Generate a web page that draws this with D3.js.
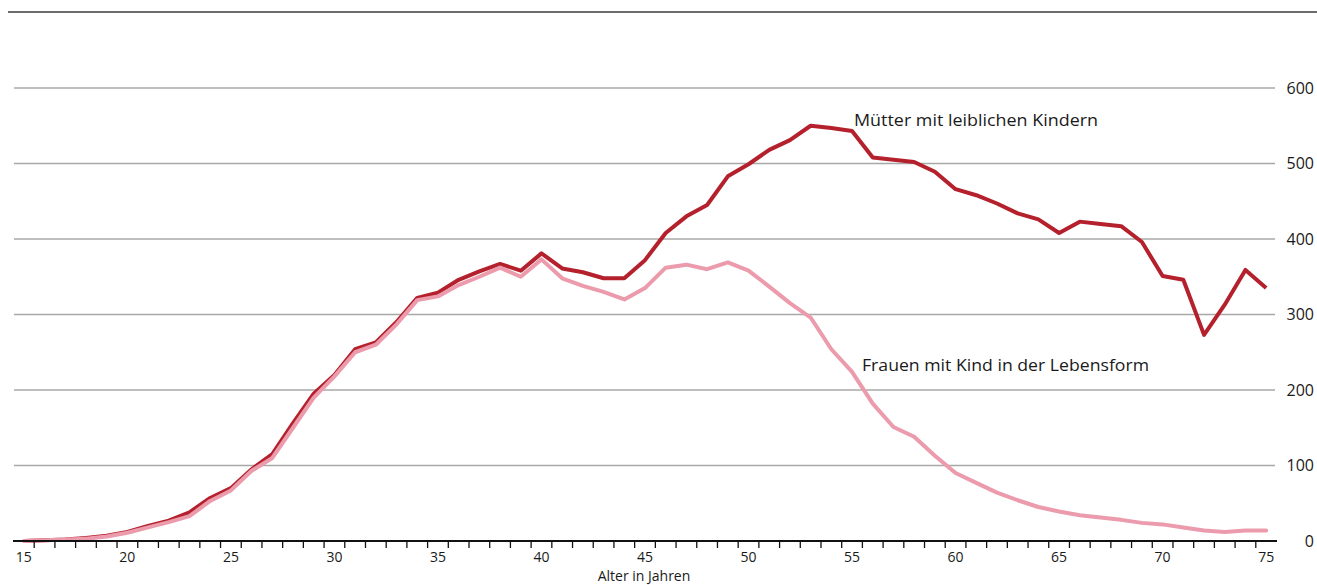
<!DOCTYPE html>
<html><head><meta charset="utf-8">
<script src="https://cdn.jsdelivr.net/npm/d3@7"></script>
<style>
body{margin:0;background:#fff;}
text{font-family:"Open Sans","Noto Sans",sans-serif;fill:#1a1a1a;}
</style></head>
<body><svg id="c" width="1317" height="585"></svg>
<script>
const ages = d3.range(15, 76);
const muetter = [0,1,2,4,7,12,20,27,38,57,70,95,115,156,195,220,254,263,290,322,
  329,346,357,367,358,381,361,356,348,348,372,408,430,445,483,499,518,531,550,547,
  543,508,505,502,489,466,458,447,434,426,408,423,420,417,396,351,346,273,313,359,335];
const frauen = [0,1,2,3,6,11,18,25,33,53,67,93,110,150,190,218,250,260,287,319,
  324,339,350,362,350,373,348,338,330,320,335,362,366,360,369,358,337,315,296,254,
  224,182,151,138,113,90,77,64,54,45,39,34,31,28,24,22,18,14,12,14,14];
const yTicks = [0,100,200,300,400,500,600];
const xLabels = [15,20,25,30,35,40,45,50,55,60,65,70,75];
const seriesNames = ["Mütter mit leiblichen Kindern","Frauen mit Kind in der Lebensform"];
const xTitle = "Alter in Jahren";

const svg = d3.select("#c");
const x = d3.scaleBand().domain(ages).range([13.5, 1276.5]).padding(0);
const y = d3.scaleLinear().domain([0,600]).range([541, 88]);
const cx = a => x(a) + x.bandwidth()/2;

// top rule
svg.append("line").attr("x1",8).attr("x2",1317).attr("y1",12).attr("y2",12)
  .attr("stroke","#6b6b6b").attr("stroke-width",2);

// gridlines
svg.append("g").selectAll("line").data(yTicks.filter(d=>d>0)).join("line")
  .attr("x1",14).attr("x2",1275).attr("y1",d=>y(d)).attr("y2",d=>y(d))
  .attr("stroke","#a8a8a8").attr("stroke-width",1.5);

// y labels
svg.append("g").selectAll("text").data(yTicks).join("text")
  .attr("x",1314).attr("y",d=>y(d)).attr("dy","0.36em").attr("text-anchor","end")
  .attr("font-size",16).text(d=>d);

// lines
const line = d3.line().x((d,i)=>cx(ages[i])).y(d=>y(d));
svg.append("path").datum(muetter).attr("d",line).attr("fill","none")
  .attr("stroke","#b4212d").attr("stroke-width",4).attr("stroke-linejoin","round");
svg.append("path").datum(frauen).attr("d",line).attr("fill","none")
  .attr("stroke","#eb9bab").attr("stroke-width",4).attr("stroke-linejoin","round").attr("stroke-linecap","round");

// x axis
svg.append("line").attr("x1",13).attr("x2",1277).attr("y1",541).attr("y2",541)
  .attr("stroke","#111").attr("stroke-width",2);
svg.append("g").selectAll("line").data(ages.slice(1)).join("line")
  .attr("x1",d=>x(d)).attr("x2",d=>x(d)).attr("y1",541).attr("y2",548)
  .attr("stroke","#111").attr("stroke-width",1.3);
svg.append("g").selectAll("text").data(xLabels).join("text")
  .attr("x",d=>cx(d)).attr("y",562).attr("text-anchor","middle")
  .attr("font-size",14).text(d=>d);
svg.append("text").attr("x",644).attr("y",580.5).attr("text-anchor","middle")
  .attr("font-size",14).text(xTitle);

// series labels
svg.append("text").attr("x",854).attr("y",126).attr("font-size",17)
  .attr("textLength",244).attr("lengthAdjust","spacingAndGlyphs").text(seriesNames[0]);
svg.append("text").attr("x",862).attr("y",371).attr("font-size",17)
  .attr("textLength",287).attr("lengthAdjust","spacingAndGlyphs").text(seriesNames[1]);
</script></body></html>
